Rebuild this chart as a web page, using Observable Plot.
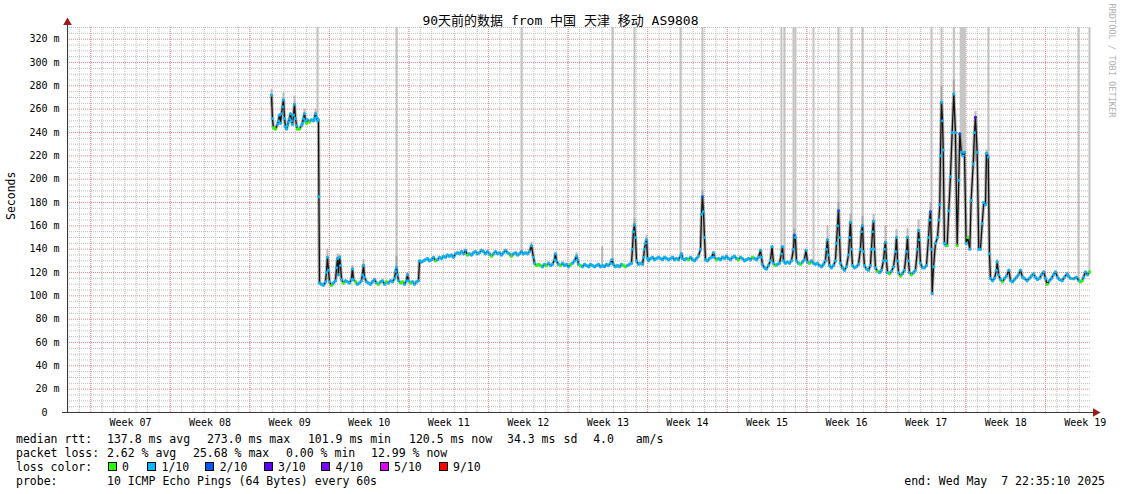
<!DOCTYPE html>
<html>
<head>
<meta charset="utf-8">
<script src="https://cdn.jsdelivr.net/npm/d3@7"></script>
<script src="https://cdn.jsdelivr.net/npm/@observablehq/plot@0.6"></script>
<style>
  body { margin: 0; background: #fff; }
  #wrap { position: relative; width: 1121px; height: 494px; overflow: hidden; background: #fff;
          font-family: 'DejaVu Sans Mono', monospace; color: #000; }
  #title { position: absolute; top: 13px; left: 0; width: 1121px; text-align: center;
           font: 13px 'DejaVu Sans Mono', 'Noto Sans CJK SC', monospace; line-height: 16px; z-index: 2; }
  #chart { position: absolute; top: 0; left: 0; }
  .lg { position: absolute; font-size: 11.5px; line-height: 14px; white-space: pre; }
  .sq { position: absolute; width: 7px; height: 7px; border: 1px solid #000; }
</style>
</head>
<body>
<div id="wrap">
  <div id="title"></div>
  <div id="chart"></div>
</div>
<script>
// ---------------- data ----------------
const titleText = "90天前的数据 from 中国 天津 移动 AS9808";
const xDomain = [0, 90];          // days since start of the 90 day window
const yDomain = [0, 330];         // milliseconds
const firstWeekStart = 2.04;      // day offset of first week boundary
const weekLabels = ["Week 07","Week 08","Week 09","Week 10","Week 11","Week 12","Week 13",
                    "Week 14","Week 15","Week 16","Week 17","Week 18","Week 19"];
const yTicks = [0,20,40,60,80,100,120,140,160,180,200,220,240,260,280,300,320];

// median rtt: [day, ms, lossLevel(optional, default 1)]
const median = [
[17.95,272],[18.03,252],[18.12,244,0],[18.30,243,0],[18.47,247],[18.56,250],[18.65,255],[18.74,248],[18.83,256],[18.91,262],[19.00,268],[19.09,252],[19.18,245],[19.27,243],[19.35,246],[19.44,249],[19.53,252],[19.62,256],[19.71,250],[19.79,247],[19.88,255],[19.97,264],[20.06,252],[20.15,246],[20.23,243,0],[20.41,243,0],[20.59,246],[20.67,248],[20.76,252],[20.85,256],[20.94,250],[21.03,248,0],[21.11,251],[21.29,249,0],[21.47,251],[21.64,250],[21.73,252],[21.82,256],[21.91,253],[21.99,250],[22.08,251],[22.12,185],
[22.17,111],[22.35,110],[22.52,109],[22.70,112],[22.78,120],[22.87,133],[22.96,122],[23.05,112],[23.23,109,0],[23.40,111],[23.58,113],[23.67,124],[23.76,132],[23.84,118],[23.93,133],[24.02,126],[24.11,114],[24.28,111,0],[24.46,113],[24.63,112],[24.81,111],[24.98,114],[25.07,123],[25.16,114],[25.34,112,0],[25.51,110],[25.69,111],[25.86,113],[25.95,118],[26.04,126],[26.13,116],[26.30,112],[26.48,111],[26.66,110],[26.83,112],[27.01,114],[27.18,111],[27.36,110,0],[27.54,112],[27.71,113],[27.89,110],[28.06,112,0],[28.24,111],[28.42,113],[28.59,112],[28.77,115],[28.86,121],[28.94,124],[29.03,118],[29.12,113],[29.30,111,0],[29.47,112,0],[29.65,110],[29.82,113],[29.91,118],[30.00,113],[30.17,111,0],[30.35,112],[30.53,110],[30.70,112],[30.88,113],
[30.97,130],[31.14,129],[31.32,130],[31.49,131],[31.67,132],[31.85,130],[32.02,131],[32.20,133],[32.38,130,0],[32.55,131],[32.73,133],[32.90,132],[33.08,134],[33.25,133],[33.43,135],[33.61,134],[33.78,135],[33.96,133],[34.13,136],[34.31,137],[34.49,136],[34.66,138],[34.84,136],[35.01,139],[35.19,135,0],[35.37,136],[35.54,135],[35.72,137],[35.89,138],[36.07,136],[36.25,137],[36.42,139],[36.60,138],[36.77,136],[36.95,138],[37.13,136],[37.30,134,0],[37.48,136],[37.65,138],[37.83,136],[38.00,137],[38.18,135],[38.36,137],[38.53,139],[38.71,137],[38.88,136],[39.06,134,0],[39.24,136],[39.41,137],[39.59,135],[39.76,136],[39.94,138],[40.11,136],[40.29,137],[40.47,136],[40.64,138],[40.82,143],[40.99,133],[41.08,128],[41.26,126,0],[41.43,127,0],
[41.61,126,0],[41.79,125],[41.96,127],[42.14,126,0],[42.32,128],[42.49,126],[42.67,127],[42.84,131],[42.93,136],[43.02,130],[43.20,127],[43.37,126,0],[43.55,128],[43.72,126],[43.90,127],[44.08,125],[44.25,127,0],[44.43,128],[44.60,130],[44.78,134],[44.87,131],[44.96,127],[45.13,126,0],[45.31,125],[45.48,127],[45.66,126],[45.84,125],[46.01,127],[46.19,126],[46.36,125],[46.54,126],[46.71,127],[46.89,125],[47.07,126],[47.24,125],[47.42,127],[47.59,126],[47.77,128],[47.90,131],[48.03,127],[48.21,125],[48.39,126],[48.56,125],[48.74,127],[48.91,126,0],[49.09,125,0],[49.26,126],[49.44,127],[49.62,128],[49.70,140],[49.79,155],[49.88,161],[49.97,150],[50.06,130],[50.24,127],[50.41,128],[50.59,127],[50.68,133],[50.76,140],[50.85,145],[50.94,148],[51.03,132],[51.11,130],[51.29,132],[51.47,133],[51.64,131],[51.82,132],[51.99,133],[52.17,132],[52.35,131],[52.52,133],[52.70,132],[52.87,131],[53.05,132],[53.23,133],[53.40,131],[53.58,132],[53.75,131],[53.93,134],[54.02,136],[54.11,132],[54.28,131],[54.46,132],[54.64,131,0],[54.81,133],[54.99,131],[55.16,130],[55.34,132],[55.51,134],[55.69,140],[55.78,170],[55.86,185,2],[55.95,172],[56.04,150],[56.13,131],[56.30,130],[56.48,132],[56.66,133],[56.83,137],[56.92,133],[57.09,131,0],[57.27,132],[57.45,131],[57.62,133],[57.80,132],[57.97,134],[58.15,132],[58.33,131],[58.50,133],[58.68,134],[58.85,132],[59.03,131,0],[59.21,133],[59.38,132],[59.56,130],[59.73,131],[59.91,132],[60.09,131],[60.26,133,0],[60.44,132],[60.61,131],[60.79,133],[60.97,139],[61.05,133],[61.14,127],[61.32,124],[61.49,123],[61.67,126],[61.84,130],[61.98,142],[62.11,128],[62.29,126,0],[62.46,127],[62.64,128],[62.81,136],[62.90,142],[62.99,130],[63.16,128],[63.34,129],[63.51,128],[63.69,130],[63.87,140],[63.95,152,2],[64.04,150],[64.13,130],[64.31,128],[64.48,127,0],[64.66,129],[64.83,131],[64.97,139],[65.10,129],[65.28,128,0],[65.45,130],[65.63,128],[65.80,127],[65.98,128],[66.16,126],[66.33,125],[66.51,127],[66.68,130],[66.77,140],[66.86,148],[66.95,135],[67.04,126],[67.21,124],[67.39,126],[67.56,130],[67.65,145],[67.74,160],[67.83,173,2],[67.92,150],[68.00,128],[68.18,124],[68.36,122],[68.53,125],[68.71,135],[68.80,150],[68.88,163],[68.97,140],[69.06,126],[69.24,124],[69.41,125],[69.59,127],[69.76,140],[69.85,155],[69.94,160],[70.03,138],[70.11,126],[70.29,123],[70.47,122],[70.64,126],[70.73,140],[70.82,155],[70.91,164],[71.00,140],[71.08,124],[71.26,121,0],[71.44,120],[71.61,122],[71.79,130],[71.88,140],[71.96,146],[72.05,130],[72.14,120],[72.32,119,0],[72.49,121],[72.67,125],[72.85,138],[72.93,150],[73.02,130],[73.11,120],[73.28,117,0],[73.46,119],[73.63,122],[73.81,138],[73.90,150],[73.99,130],[74.07,120],[74.25,118,0],[74.43,120],[74.60,122],[74.78,140],[74.87,156],[74.95,148],[75.04,128],[75.22,124],[75.39,124],[75.57,126],[75.75,150],[75.84,165],[75.92,172,2],[76.01,140],[76.07,102],[76.19,125],[76.36,145],[76.54,150],[76.66,165],[76.74,178],[76.80,220],[76.89,266],[76.98,250],[77.04,225],[77.15,145],[77.29,143],[77.39,143,0],[77.53,173],[77.68,202],[77.83,240],[77.97,273],[78.12,240],[78.27,143,0],[78.41,199],[78.50,239,2],[78.63,223],[78.80,220],[78.91,223],[79.06,145],[79.20,150,0],[79.38,140],[79.50,182],[79.68,213],[79.79,240],[79.88,253,3],[80.03,223],[80.17,140],[80.32,140],[80.47,162],[80.61,180],[80.76,178],[80.85,222],[81.00,219],[81.11,136],[81.20,115],
[81.38,113],[81.55,115],[81.73,122],[81.79,129],[81.91,118],[82.08,114],[82.26,112,0],[82.43,115],[82.61,117],[82.82,122],[82.96,113],[83.14,112],[83.31,114],[83.49,116],[83.67,118],[83.84,122],[84.02,116],[84.19,115],[84.42,113],[84.62,115],[84.80,117],[85.00,119],[85.15,116],[85.33,114],[85.51,115],[85.68,118],[85.89,120.5],[86.04,115],[86.19,110,0],[86.39,113],[86.57,115],[86.74,118],[86.92,120.5],[87.10,116],[87.27,114],[87.51,113],[87.71,116],[87.95,119],[88.06,117],[88.24,115],[88.53,114.7],[88.77,116],[88.97,113],[89.12,112,0],[89.27,113,0],[89.38,116],[89.56,120.5],[89.74,118],[89.91,120.5,0]
];

// smoke columns above the median: [day, lowMs, highMs]
const smoke = [
[17.95,262,277],[19.00,262,274],[19.97,258,271],[20.85,252,260],[21.82,252,260],
[22.87,128,140],[23.76,125,136],[23.93,126,135],[25.07,118,126],[26.04,120,131],[28.94,118,134],[29.91,114,120],
[40.82,138,146],[44.78,130,137],[47.04,127,142],[49.88,150,166],[50.94,140,152],[55.86,175,190],[63.95,145,157],
[66.86,135,160],[67.83,155,180],[68.88,145,170],[69.94,145,168],[70.91,150,170],[71.96,140,160],[72.93,140,157],
[73.90,140,158],[74.87,145,165],[75.92,160,180],[76.89,250,280],[77.97,260,285],[79.88,215,258],[80.85,200,225],[81.79,122,131]
];

// pings far above the median (smoke reaching past the top): [day, fromMs]
const outliers = [
[21.99,256],[28.94,124],[39.94,138],[47.95,131],[49.88,161],[53.93,134],[55.86,185],[62.81,136],[63.08,130],
[63.87,140],[64.04,150],[65.63,128],[67.83,173],[68.97,140],[69.94,160],[76.01,140],[76.89,266],[77.97,273],
[81.02,219],[88.94,113],[89.91,120]
];
const outlierBands = [[78.54,79.06,222]];   // [fromDay, toDay, fromMs]

const lossColors = ["#26ff00","#00b8ff","#0059ff","#5e00ff","#7e00ff","#dd00ff","#ff0000"];
const lossColorLabels = ["0","1/10","2/10","3/10","4/10","5/10","9/10"];
const rttLegend = ["median rtt:","137.8 ms avg","273.0 ms max","101.9 ms min","120.5 ms now","34.3 ms","sd","4.0","am/s"];
const lossLegend = ["packet loss:","2.62 % avg","25.68 % max","0.00 % min","12.99 % now"];
const probeLegend = ["probe:","10 ICMP Echo Pings (64 Bytes) every 60s"];
const endLegend = "end: Wed May  7 22:35:10 2025";
const watermark = "RRDTOOL / TOBI OETIKER";
const yTitle = "Seconds";

// ---------------- chart ----------------
document.getElementById("title").textContent = titleText;

const weekBounds = d3.range(0, weekLabels.length).map(i => firstWeekStart + 7 * i);
const labelDays = weekBounds.map(d => d + 3.5);
const dayLines = d3.range(firstWeekStart % 1, xDomain[1], 1);
const minorY = d3.range(5, yDomain[1] + 1, 5).filter(v => v % 20 !== 0);
const majorY = d3.range(20, yDomain[1] + 1, 20);
const X = d => d[0], Y = d => d[1];
const lossOf = d => lossColors[d[2] ?? 1];

const chart = Plot.plot({
  width: 1121, height: 430,
  marginLeft: 67, marginRight: 31, marginTop: 27, marginBottom: 18,
  x: {domain: xDomain},
  y: {domain: yDomain},
  color: {type: "identity"},
  style: {fontFamily: "'DejaVu Sans Mono', monospace", fontSize: "10px", color: "#000", background: "transparent", overflow: "visible"},
  marks: [
    Plot.ruleY(minorY, {stroke: "#bdbdbd", strokeDasharray: "1,1"}),
    Plot.ruleX(dayLines, {stroke: "#bdbdbd", strokeDasharray: "1,1"}),
    Plot.ruleY(majorY, {stroke: "#f08a8a", strokeDasharray: "1,1"}),
    Plot.ruleX(weekBounds, {stroke: "#f08a8a", strokeDasharray: "1,1"}),
    Plot.rect(outlierBands, {x1: d => d[0], x2: d => d[1], y1: d => d[2], y2: yDomain[1], fill: "#c6c6c6"}),
    Plot.ruleX(outliers, {x: X, y1: Y, y2: yDomain[1], stroke: "#c2c2c2", strokeWidth: 2}),
    Plot.ruleX(smoke, {x: X, y1: d => d[1], y2: d => d[2], stroke: "#8a8a8a", strokeWidth: 2, strokeOpacity: 0.55}),
    Plot.line(median, {x: X, y: Y, stroke: "#555", strokeWidth: 3.4, strokeOpacity: 0.4}),
    Plot.line(median, {x: X, y: Y, stroke: "#111", strokeWidth: 1.3}),
    Plot.dot(median, {x: X, y: Y, r: 1.5, fill: lossOf, stroke: null}),
    Plot.ruleY([0], {stroke: "#3a3a3a", insetLeft: -5, insetRight: -4}),
    Plot.ruleX([0], {stroke: "#3a3a3a", insetTop: -5}),
    Plot.dot([xDomain[1]], {x: d => d, y: 0, symbol: "triangle", r: 3.2, rotate: 90, dx: 5, fill: "#9b1b1b", stroke: null}),
    Plot.dot([yDomain[1]], {x: 0, y: d => d, symbol: "triangle", r: 3.2, dy: -5, fill: "#9b1b1b", stroke: null}),
    Plot.axisY(yTicks, {tickFormat: d => d === 0 ? "0\u00a0\u00a0" : d + " m", tickSize: 0, tickPadding: 8, label: null, fontSize: 10}),
    Plot.axisX(labelDays, {tickFormat: d => weekLabels[Math.round((d - labelDays[0]) / 7)], tickSize: 0, tickPadding: 6, label: null, fontSize: 10}),
    Plot.text([yTitle], {frameAnchor: "left", dx: -56, rotate: -90, fontSize: 11.5}),
    Plot.text([watermark], {frameAnchor: "top-right", dx: 21.5, dy: -24, rotate: 90, textAnchor: "start", lineAnchor: "middle", fontSize: 8.6, fill: "#b4b4b4"})
  ]
});
document.getElementById("chart").appendChild(chart);

// ---------------- legend (below the plot) ----------------
const wrap = document.getElementById("wrap");
function addText(txt, left, top, right) {
  const el = document.createElement("div");
  el.className = "lg";
  el.textContent = txt;
  if (right != null) el.style.right = right + "px"; else el.style.left = left + "px";
  el.style.top = top + "px";
  wrap.appendChild(el);
}
const rowTop = [432, 446, 460, 474];
const rttX = [16, 107, 207, 307.9, 409, 507, 563.6, 593.2, 635.7];
rttLegend.forEach((t, i) => addText(t, rttX[i], rowTop[0]));
const lossX = [16, 107, 193, 286, 371];
lossLegend.forEach((t, i) => addText(t, lossX[i], rowTop[1]));
addText("loss color:", 16, rowTop[2]);
const swatchLabelX = [122, 161.5, 219.7, 278, 335.6, 394.1, 453];
lossColorLabels.forEach((t, i) => {
  const sq = document.createElement("div");
  sq.className = "sq";
  sq.style.left = (swatchLabelX[i] - 14.5) + "px";
  sq.style.top = (rowTop[2] + 2) + "px";
  sq.style.background = lossColors[i];
  wrap.appendChild(sq);
  addText(t, swatchLabelX[i], rowTop[2]);
});
addText(probeLegend[0], 16, rowTop[3]);
addText(probeLegend[1], 107, rowTop[3]);
addText(endLegend, null, rowTop[3], 1121 - 1105);
</script>
</body>
</html>
